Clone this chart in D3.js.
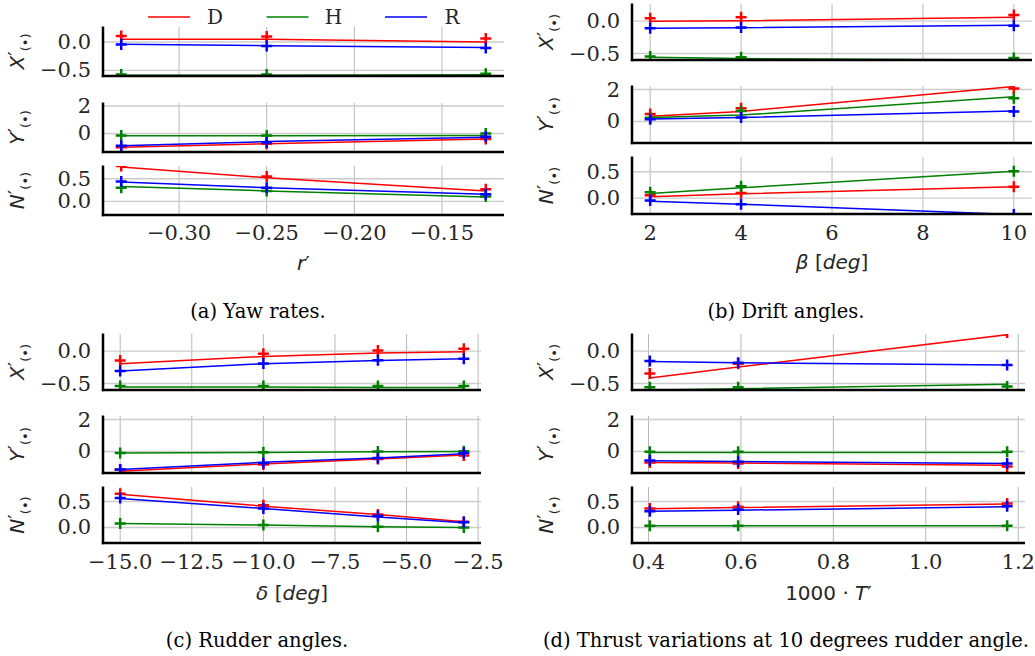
<!DOCTYPE html>
<html>
<head>
<meta charset="utf-8">
<script src="https://cdn.jsdelivr.net/npm/d3@7"></script>
<style>
  body { margin: 0; background: #fff; }
  svg { display: block; }
</style>
</head>
<body>
<svg id="chart" width="1035" height="656"></svg>
<script>
"use strict";

var series = ['D', 'H', 'R'];
var colors = { D: '#ff0000', H: '#008000', R: '#0000ff' };
var quantities = ['X', 'Y', 'N'];
var yDomains = { X: [-0.6, 0.265], Y: [-1.35, 2.22], N: [-0.3, 0.78] };
var yTicks = { X: [-0.5, 0.0], Y: [0, 2], N: [0.0, 0.5] };
var yTickFmt = { X: '.1f', Y: 'd', N: '.1f' };

// (a) yaw rates
var yawR = [-0.333, -0.25, -0.125];
var yawTicks = [-0.30, -0.25, -0.20, -0.15];
var yawXMeas = { D: [0.107, 0.096, 0.06], H: [-0.575, -0.575, -0.56], R: [-0.045, -0.07, -0.107] };
var yawXPred = { D: [0.048, 0.048, 0.0], H: [-0.585, -0.585, -0.58], R: [-0.041, -0.065, -0.095] };
var yawYMeas = { D: [-1.0, -0.75, -0.4], H: [-0.15, -0.15, 0.0], R: [-0.9, -0.66, -0.24] };
var yawYPred = { D: [-1.01, -0.75, -0.4], H: [-0.17, -0.17, -0.15], R: [-0.9, -0.59, -0.28] };
var yawNMeas = { D: [0.78, 0.55, 0.27], H: [0.30, 0.23, 0.11], R: [0.44, 0.30, 0.155] };
var yawNPred = { D: [0.757, 0.52, 0.23], H: [0.33, 0.23, 0.095], R: [0.43, 0.30, 0.155] };

// (b) drift angles
var driftBeta = [2, 4, 10];
var driftTicks = [2, 4, 6, 8, 10];
var driftXMeas = { D: [0.046, 0.062, 0.097], H: [-0.547, -0.557, -0.57], R: [-0.108, -0.098, -0.072] };
var driftXPred = { D: [0.0, 0.005, 0.062], H: [-0.557, -0.577, -0.6], R: [-0.108, -0.10, -0.062] };
var driftYMeas = { D: [0.46, 0.82, 2.06], H: [0.23, 0.65, 1.45], R: [0.13, 0.25, 0.63] };
var driftYPred = { D: [0.32, 0.63, 2.19], H: [0.25, 0.40, 1.55], R: [0.15, 0.25, 0.65] };
var driftNMeas = { D: [0.057, 0.1, 0.215], H: [0.114, 0.228, 0.51], R: [-0.044, -0.114, -0.31] };
var driftNPred = { D: [0.025, 0.082, 0.215], H: [0.089, 0.196, 0.51], R: [-0.057, -0.114, -0.31] };

// (c) rudder angles
var rudderDelta = [-15, -10, -6, -3];
var rudderTicks = [-15, -12.5, -10, -7.5, -5, -2.5];
var rudderXMeas = { D: [-0.143, -0.04, 0.01, 0.036], H: [-0.54, -0.54, -0.54, -0.54], R: [-0.306, -0.19, -0.14, -0.117] };
var rudderXPred = { D: [-0.194, -0.081, -0.03, -0.01], H: [-0.555, -0.555, -0.56, -0.56], R: [-0.306, -0.194, -0.143, -0.117] };
var rudderYMeas = { D: [-1.15, -0.82, -0.47, -0.25], H: [-0.10, -0.05, 0.0, 0.02], R: [-1.13, -0.72, -0.41, -0.10] };
var rudderYPred = { D: [-1.24, -0.78, -0.47, -0.22], H: [-0.10, -0.07, -0.02, 0.0], R: [-1.13, -0.68, -0.41, -0.14] };
var rudderNMeas = { D: [0.65, 0.43, 0.25, 0.11], H: [0.077, 0.045, 0.013, 0.0], R: [0.57, 0.365, 0.22, 0.10] };
var rudderNPred = { D: [0.64, 0.41, 0.25, 0.108], H: [0.077, 0.045, 0.013, 0.0], R: [0.56, 0.365, 0.20, 0.09] };

// (d) thrust variations
var thrustT = [0.403, 0.594, 1.176];
var thrustTicks = [0.4, 0.6, 0.8, 1.0, 1.2];
var thrustXMeas = { D: [-0.347, -0.194, 0.29], H: [-0.556, -0.556, -0.546], R: [-0.153, -0.178, -0.214] };
var thrustXPred = { D: [-0.414, -0.245, 0.255], H: [-0.6, -0.58, -0.51], R: [-0.158, -0.178, -0.214] };
var thrustYMeas = { D: [-0.69, -0.75, -0.94], H: [-0.02, -0.02, -0.02], R: [-0.57, -0.65, -0.75] };
var thrustYPred = { D: [-0.69, -0.73, -0.86], H: [-0.06, -0.06, -0.06], R: [-0.59, -0.63, -0.75] };
var thrustNMeas = { D: [0.365, 0.40, 0.46], H: [0.032, 0.032, 0.032], R: [0.314, 0.346, 0.41] };
var thrustNPred = { D: [0.36, 0.385, 0.45], H: [0.032, 0.032, 0.032], R: [0.314, 0.333, 0.397] };

var figures = [
  { id: 'a', x: yawR, ticks: yawTicks, fmt: '.2f',
    meas: { X: yawXMeas, Y: yawYMeas, N: yawNMeas }, pred: { X: yawXPred, Y: yawYPred, N: yawNPred },
    left: 103, right: 504, rows: [[27, 76], [103, 152], [166, 215]],
    tickY: 233, labelY: 263, capX: 258, capY: 311, caption: '(a) Yaw rates.',
    xlabel: [['r', 'italic'], ['\u2032', 'normal']], legend: true },
  { id: 'b', x: driftBeta, ticks: driftTicks, fmt: 'd',
    meas: { X: driftXMeas, Y: driftYMeas, N: driftNMeas }, pred: { X: driftXPred, Y: driftYPred, N: driftNPred },
    left: 632, right: 1032, rows: [[4, 60], [86, 143], [157, 214]],
    tickY: 233, labelY: 262, capX: 786, capY: 311, caption: '(b) Drift angles.',
    xlabel: [['\u03b2 ', 'italic'], ['[', 'normal'], ['deg', 'italic'], [']', 'normal']] },
  { id: 'c', x: rudderDelta, ticks: rudderTicks, fmt: '.1f',
    meas: { X: rudderXMeas, Y: rudderYMeas, N: rudderNMeas }, pred: { X: rudderXPred, Y: rudderYPred, N: rudderNPred },
    left: 103, right: 481, rows: [[334, 390], [416, 473], [487, 543]],
    tickY: 562, labelY: 593, capX: 257, capY: 640, caption: '(c) Rudder angles.',
    xlabel: [['\u03b4 ', 'italic'], ['[', 'normal'], ['deg', 'italic'], [']', 'normal']] },
  { id: 'd', x: thrustT, ticks: thrustTicks, fmt: '.1f',
    meas: { X: thrustXMeas, Y: thrustYMeas, N: thrustNMeas }, pred: { X: thrustXPred, Y: thrustYPred, N: thrustNPred },
    left: 632, right: 1025, rows: [[334, 390], [416, 473], [487, 543]],
    tickY: 562, labelY: 593, capX: 786, capY: 640, caption: '(d) Thrust variations at 10 degrees rudder angle.',
    xlabel: [['1000 \u00b7 ', 'normal'], ['T', 'italic'], ['\u2032', 'normal']] }
];

var svg = d3.select('#chart');
var serif = "'DejaVu Serif', serif";
var sans = "'DejaVu Sans', sans-serif";
var tickColor = '#262626';
var tickSize = 21;

svg.append('rect').attr('width', 1035).attr('height', 656).attr('fill', '#fff');

function draw_figure(fig) {
  var g = svg.append('g').attr('class', 'fig-' + fig.id);
  var ext = d3.extent(fig.x);
  var pad = (ext[1] - ext[0]) * 0.05;
  var _x = d3.scaleLinear().domain([ext[0] - pad, ext[1] + pad]).range([fig.left, fig.right]);

  quantities.forEach(function (q, i) {
    var top = fig.rows[i][0], bottom = fig.rows[i][1];
    var _y = d3.scaleLinear().domain(yDomains[q]).range([bottom, top]);
    var clipId = 'clip-' + fig.id + '-' + q;
    g.append('clipPath').attr('id', clipId)
      .append('rect')
      .attr('x', fig.left).attr('y', top)
      .attr('width', fig.right - fig.left).attr('height', bottom - top);

    var ax = g.append('g');
    // grid
    ax.selectAll('.vgrid').data(fig.ticks).enter().append('line')
      .attr('x1', d => _x(d)).attr('x2', d => _x(d))
      .attr('y1', top).attr('y2', bottom)
      .attr('stroke', '#b8b8b8').attr('stroke-width', 1);
    ax.selectAll('.hgrid').data(yTicks[q]).enter().append('line')
      .attr('x1', fig.left).attr('x2', fig.right)
      .attr('y1', d => _y(d)).attr('y2', d => _y(d))
      .attr('stroke', '#cccccc').attr('stroke-width', 1.4);

    // y tick labels
    var fmt = d3.format(yTickFmt[q]);
    ax.selectAll('.ytl').data(yTicks[q]).enter().append('text')
      .attr('x', fig.left - 12).attr('y', d => _y(d))
      .attr('text-anchor', 'end').attr('dominant-baseline', 'central')
      .attr('font-family', serif).attr('font-size', tickSize).attr('fill', tickColor)
      .text(d => fmt(d));

    // y label  X'_(•)
    var lab = ax.append('text')
      .attr('transform', 'translate(' + (fig.left - 79) + ',' + ((top + bottom) / 2) + ') rotate(-90)')
      .attr('text-anchor', 'middle')
      .attr('font-family', sans).attr('font-size', 20).attr('fill', tickColor);
    lab.append('tspan').attr('font-style', 'italic').text(q);
    lab.append('tspan').attr('dy', -2).text('\u2032');
    lab.append('tspan').attr('font-size', 13).attr('dy', 8).text('(\u2022)');

    // series
    var plot = ax.append('g').attr('clip-path', 'url(#' + clipId + ')');
    series.forEach(function (s) {
      var pred = fig.pred[q][s].map((v, k) => [fig.x[k], v]);
      var meas = fig.meas[q][s].map((v, k) => [fig.x[k], v]);
      var valueline = d3.line().x(d => _x(d[0])).y(d => _y(d[1]));
      plot.append('path')
        .datum(pred)
        .attr('d', valueline)
        .attr('fill', 'none').attr('stroke', colors[s]).attr('stroke-width', 1.5);
      plot.selectAll('.m' + s).data(meas).enter().append('path')
        .attr('transform', d => 'translate(' + _x(d[0]) + ',' + _y(d[1]) + ')')
        .attr('d', 'M-5.5,0H5.5M0,-5.5V5.5')
        .attr('stroke', colors[s]).attr('stroke-width', 2.5);
    });

    // spines
    ax.append('line').attr('x1', fig.left).attr('x2', fig.left)
      .attr('y1', top - 0.5).attr('y2', bottom + 1.2)
      .attr('stroke', '#000').attr('stroke-width', 2.5);
    ax.append('line').attr('x1', fig.left - 1.2).attr('x2', fig.right)
      .attr('y1', bottom).attr('y2', bottom)
      .attr('stroke', '#000').attr('stroke-width', 2.5);
  });

  // x tick labels
  var xfmt = d3.format(fig.fmt);
  g.selectAll('.xtl').data(fig.ticks).enter().append('text')
    .attr('x', d => _x(d)).attr('y', fig.tickY)
    .attr('text-anchor', 'middle').attr('dominant-baseline', 'central')
    .attr('font-family', serif).attr('font-size', tickSize).attr('fill', tickColor)
    .text(d => xfmt(d));

  // x label
  var xl = g.append('text')
    .attr('x', (fig.left + fig.right) / 2).attr('y', fig.labelY)
    .attr('text-anchor', 'middle').attr('dominant-baseline', 'central')
    .attr('font-family', sans).attr('font-size', 20).attr('fill', tickColor);
  fig.xlabel.forEach(function (p) {
    xl.append('tspan').attr('font-style', p[1]).text(p[0]);
  });

  // caption
  g.append('text')
    .attr('x', fig.capX).attr('y', fig.capY)
    .attr('text-anchor', 'middle').attr('dominant-baseline', 'central')
    .attr('font-family', serif).attr('font-size', 19.5).attr('fill', '#000')
    .text(fig.caption);

  if (fig.legend) {
    var leg = g.append('g').attr('transform', 'translate(148,17)');
    series.forEach(function (s, k) {
      var item = leg.append('g').attr('transform', 'translate(' + (k * 118.5) + ',0)');
      item.append('line').attr('x1', 0).attr('x2', 42).attr('y1', 0).attr('y2', 0)
        .attr('stroke', colors[s]).attr('stroke-width', 1.5);
      item.append('text').attr('x', 67).attr('y', 0)
        .attr('text-anchor', 'middle').attr('dominant-baseline', 'central')
        .attr('font-family', serif).attr('font-size', 20).attr('fill', tickColor)
        .text(s);
    });
  }
}

figures.forEach(draw_figure);
</script>
</body>
</html>
